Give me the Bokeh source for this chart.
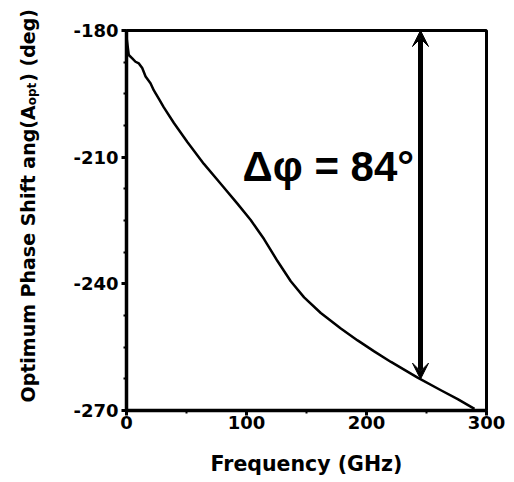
import numpy as np
from bokeh.plotting import figure
from bokeh.layouts import row
from bokeh.models import Range1d, FixedTicker, Label, Arrow, VeeHead, Plot
from bokeh.core.properties import value
from bokeh.embed import file_html
from bokeh.resources import INLINE

# ---- data ----
freq = [0.0, 0.5, 1.9, 4.8, 7.5, 10.3, 13.1, 15.9, 20.0, 22.8, 27.0, 31.1, 39.5,
        50.7, 64.5, 78.5, 92.4, 103.5, 114.6, 125.8, 136.9, 148.0, 161.9, 178.6,
        192.6, 206.4, 220.4, 242.6, 262.0, 276.0, 290.0]
phase = [-181.5, -182.7, -185.8, -186.6, -187.4, -187.8, -188.9, -190.9, -192.5,
         -194.2, -196.2, -198.2, -201.9, -206.4, -211.6, -216.3, -221.0, -224.9,
         -229.4, -234.6, -239.4, -243.2, -246.9, -250.6, -253.4, -256.0, -258.5,
         -262.2, -265.2, -267.3, -269.6]

x_ticks = [0, 100, 200, 300]
x_minor = [50, 150, 250]
y_ticks = [-270, -240, -210, -180]
y_minor = [-262.5, -255, -247.5, -232.5, -225, -217.5, -202.5, -195, -187.5]
x_lim = (0, 300)
y_lim = (-270, -180)

delta_phi = 84
arrow_freq = 245

ytitle_main = "Optimum Phase Shift ang(A"
ytitle_sub = "opt"
ytitle_end = ") (deg)"

# ---- layout (page pixels) ----
W, H = 512, 480
LW = 48                 # strip that holds the y-axis title
L, T = 126, 30          # frame position on the page
FW, FH = 360, 380
R, B = W - L - FW, H - T - FH


def xd(cx):
    return x_lim[0] + (cx - L) * (x_lim[1] - x_lim[0]) / FW


def yd(cy):
    return y_lim[1] - (cy - T) * (y_lim[1] - y_lim[0]) / FH


p = figure(width=W - LW, height=H, x_range=Range1d(*x_lim), y_range=Range1d(*y_lim),
           output_backend="svg", toolbar_location=None,
           min_border_left=L - LW, min_border_right=R, min_border_top=T, min_border_bottom=B)
p.grid.visible = False
p.outline_line_color = "black"
p.outline_line_width = 3
p.background_fill_color = "white"
p.border_fill_color = "white"

FONT = "DejaVu Sans"
for ax in (p.xaxis[0], p.yaxis[0]):
    ax.axis_line_width = 3.5
    ax.axis_line_color = "black"
    ax.major_tick_line_width = 3
    ax.major_tick_out = 5
    ax.major_tick_in = 0
    ax.minor_tick_line_width = 2
    ax.minor_tick_out = 3
    ax.minor_tick_in = 0
    ax.major_label_text_font = FONT
    ax.major_label_text_font_style = "bold"
    ax.major_label_text_font_size = "18px"
    ax.major_label_text_color = "black"

p.xaxis.ticker = FixedTicker(ticks=x_ticks, minor_ticks=x_minor)
p.yaxis.ticker = FixedTicker(ticks=y_ticks, minor_ticks=y_minor)
p.xaxis.major_label_overrides = {t: str(t) for t in x_ticks}
p.yaxis.major_label_overrides = {t: str(t) for t in y_ticks}
p.xaxis.major_label_standoff = 0
p.yaxis.major_label_standoff = 3
p.xaxis.axis_label = "Frequency (GHz)"
p.xaxis.axis_label_text_font = FONT
p.xaxis.axis_label_text_font_style = "bold"
p.xaxis.axis_label_text_font_size = "20.5px"
p.xaxis.axis_label_text_color = "black"
p.xaxis.axis_label_standoff = 20

p.line(freq, phase, line_width=2.5, line_color="black", line_join="round")

# arrow from the top of the axis down to the curve
y_curve = float(np.interp(arrow_freq, freq, phase))
p.add_layout(Arrow(x_start=arrow_freq, y_start=y_curve, x_end=arrow_freq, y_end=y_lim[1],
                   line_width=5, line_color="black",
                   start=VeeHead(size=16, fill_color="black", line_color="black", line_width=1),
                   end=VeeHead(size=16, fill_color="black", line_color="black", line_width=1)))

p.add_layout(Label(x=xd(242), y=yd(165.7), text="\u0394\u03c6 = %d\u00b0" % delta_phi,
                   text_font="Liberation Sans", text_font_style="bold",
                   text_font_size="42px", text_color="black",
                   text_align="left", text_baseline="alphabetic"))

# ---- left strip with the rotated y-axis title (pixel coordinates, y downwards) ----
t = figure(width=LW, height=H, x_range=Range1d(0, LW), y_range=Range1d(H, 0),
           x_axis_type=None, y_axis_type=None, output_backend="svg",
           toolbar_location=None, min_border=0)
t.grid.visible = False
t.outline_line_color = None
t.background_fill_color = "white"
t.border_fill_color = "white"
t.title.visible = False
if "frame_align" in Plot.properties():
    t.frame_align = False
    p.frame_align = False

fs, sfs = 19, 12
w_main = 15.642 * fs            # DejaVu Sans Bold advance widths
w_sub = 1.881 * sfs
y_start, base_x = 402, 27
common = dict(angle=np.pi / 2, text_font=value(FONT), text_font_style="bold",
              text_color="black", text_align="left", text_baseline="alphabetic")
t.text(x=[base_x], y=[y_start], text=[ytitle_main], text_font_size="%dpx" % fs, **common)
t.text(x=[base_x + 4.5], y=[y_start - w_main], text=[ytitle_sub],
       text_font_size="%dpx" % sfs, **common)
t.text(x=[base_x], y=[y_start - w_main - w_sub - 1], text=[ytitle_end],
       text_font_size="%dpx" % fs, **common)

open("out.html", "w").write(file_html(row(t, p), INLINE))
